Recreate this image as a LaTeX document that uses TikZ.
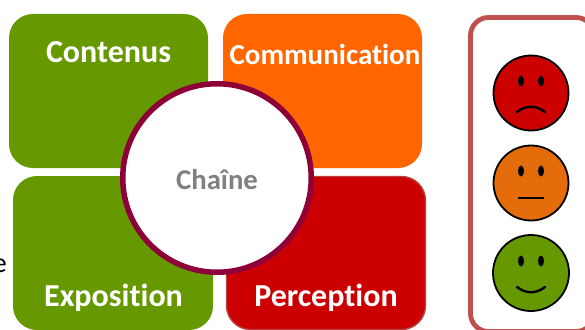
\documentclass[tikz,border=0pt]{standalone}
\usepackage{fontspec}
\setmainfont{Carlito}[Ligatures=CommonOff]
\usetikzlibrary{shapes.geometric,calc}
\definecolor{cgreen}{HTML}{669900}
\definecolor{corange}{HTML}{FF6600}
\definecolor{cred}{HTML}{CC0000}
\definecolor{credge}{HTML}{B84040}
\definecolor{cplum}{HTML}{8E0038}
\definecolor{cpanel}{HTML}{C0504D}
\definecolor{cface}{HTML}{E46C0A}
\definecolor{cgrey}{HTML}{808080}
\tikzset{
  x=1pt,y=-1pt,
  tile/.style={draw=none,rounded corners=24pt,minimum width=#1,minimum height=154pt,inner sep=0pt,outer sep=0pt,anchor=north west},
  tile/.default=199pt,
  lab/.style={text=white,font=\fontsize{32}{32}\selectfont\bfseries,inner sep=0pt},
  face/.style={circle,draw=black,line width=1.8pt,minimum size=75pt,inner sep=0pt},
  eye/.style={fill=black,draw=none,ellipse,minimum width=6pt,minimum height=11pt,inner sep=0pt},
  mouth/.style={draw=black,line width=2.4pt,line cap=round},
}
\begin{document}
\begin{tikzpicture}
\useasboundingbox (0,0) rectangle (585,329);
\clip (0,0) rectangle (585,329);
\fill[white] (0,0) rectangle (585,329);
\node[anchor=base east,inner sep=0pt,font=\fontsize{28}{28}\selectfont] (stray) at (7,272) {e};
% tiles
\node[tile,fill=cgreen] (contenus) at (9,14) {};
\node[tile,fill=corange] (comm) at (223,14) {};
\node[tile,fill=cgreen,minimum width=200pt] (expo) at (13,176) {};
\node[tile,fill=cred,minimum width=199pt,minimum height=153pt,draw=credge,line width=1.4pt] (perc) at (226.5,176.5) {};
% labels
\node[lab] (t1) at (108.5,52) {Contenus};
\node[lab,font=\fontsize{29}{29}\selectfont\bfseries] (t2) at (325,54) {Communication};
\node[lab] (t3) at (113.5,298) {Exposition};
\node[lab] (t4) at (326,298) {Perception};
% centre
\node[circle,fill=white,draw=cplum,line width=5.5pt,minimum size=188.5pt,inner sep=0pt] (chaine) at (217,178) {};
\node[text=cgrey,font=\fontsize{28.7}{28.7}\selectfont\bfseries,inner sep=0pt] (t5) at (217,180) {Chaîne};
% panel
\draw[cpanel,line width=4.8pt,rounded corners=18pt] (470.5,17.5) rectangle (594,331.5);
% red face
\node[face,fill=cred] (f1) at (531,93) {};
\node[eye] (e1) at ($(f1)+(-10,-12)$) {};
\node[eye] (e2) at ($(f1)+(10,-12)$) {};
\draw[mouth] ($(f1)+(-14,19)$) .. controls ($(f1)+(-5,12)$) and ($(f1)+(5,12)$) .. ($(f1)+(14,19)$);
% orange face
\node[face,fill=cface] (f2) at (531,183) {};
\node[eye] (e3) at ($(f2)+(-10,-12)$) {};
\node[eye] (e4) at ($(f2)+(10,-12)$) {};
\draw[mouth,line width=1.6pt,line cap=butt] ($(f2)+(-13,15)$) -- ($(f2)+(13,15)$);
% green face
\node[face,fill=cgreen,minimum size=76pt] (f3) at (531,273) {};
\node[eye] (e5) at ($(f3)+(-10,-12)$) {};
\node[eye] (e6) at ($(f3)+(10,-12)$) {};
\draw[mouth] ($(f3)+(-14,14)$) .. controls ($(f3)+(-5,21)$) and ($(f3)+(5,21)$) .. ($(f3)+(14,14)$);
\end{tikzpicture}
\end{document}
